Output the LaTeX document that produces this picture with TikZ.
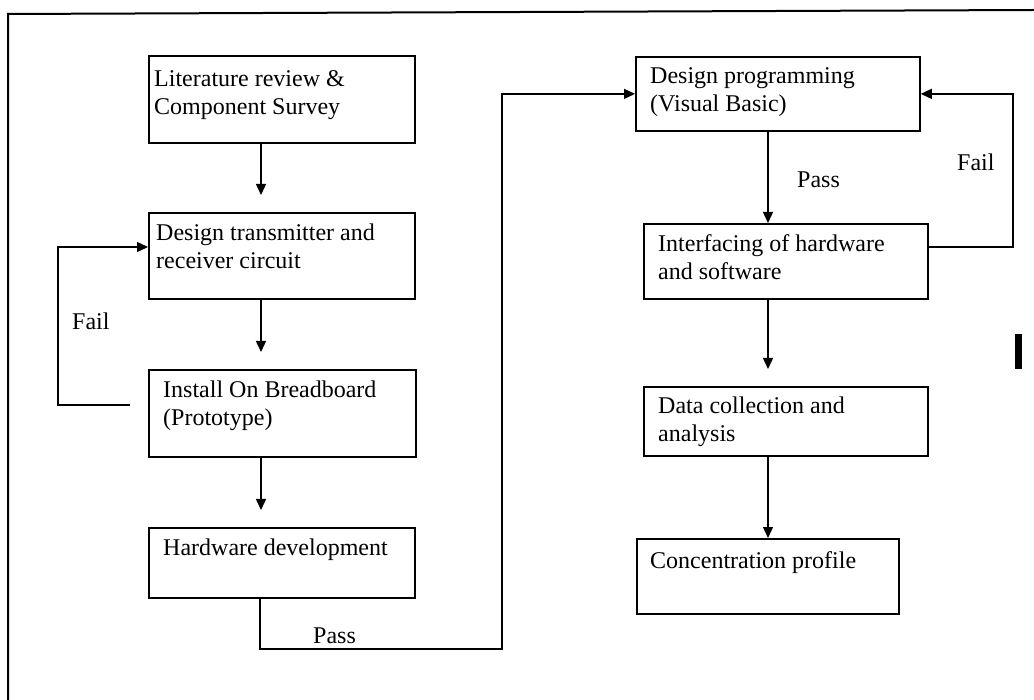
\documentclass[tikz,border=0pt]{standalone}
\usepackage{fontspec}
\setmainfont{Liberation Serif}
\usetikzlibrary{arrows.meta}
\begin{document}
\begin{tikzpicture}[x=1pt,y=-1pt,
  box/.style={draw,line width=1.8pt,inner sep=0pt,anchor=north west},
  txt/.style={inner sep=0pt,anchor=north west,align=left,font=\fontsize{24}{28}\selectfont},
  lbl/.style={inner sep=0pt,anchor=base west,font=\fontsize{24}{28}\selectfont},
  conn/.style={line width=1.4pt},
  arr/.style={conn,-{Triangle[length=11pt,width=10pt]}}]
\useasboundingbox (0,0) rectangle (1034,700);
% frame
\coordinate (fa) at (8,700);
\coordinate (fb) at (8,14);
\coordinate (fc) at (1034,10);
\draw[line width=2pt] (fa) -- (fb) -- (fc);
\fill (1015,334) rectangle (1022,369);
% boxes
\node[box,minimum width=266pt,minimum height=87pt] (b1) at (148,55) {};
\node[box,minimum width=266pt,minimum height=86pt] (b2) at (148,212) {};
\node[box,minimum width=267pt,minimum height=87pt] (b3) at (148,369) {};
\node[box,minimum width=266pt,minimum height=70pt] (b4) at (148,527) {};
\node[box,minimum width=284pt,minimum height=74pt] (b5) at (635,56) {};
\node[box,minimum width=284pt,minimum height=75pt] (b6) at (643,223) {};
\node[box,minimum width=284pt,minimum height=69pt] (b7) at (643,386) {};
\node[box,minimum width=262pt,minimum height=75pt] (b8) at (636,538) {};
% texts
\node[txt] (t1) at ([shift={(6,15)}]b1.north west) {Literature review \&\\Component Survey};
\node[txt] (t2) at ([shift={(8,12)}]b2.north west) {Design transmitter and\\receiver circuit};
\node[txt] (t3) at ([shift={(15,12)}]b3.north west) {Install On Breadboard\\(Prototype)};
\node[txt] (t4) at ([shift={(15,12)}]b4.north west) {Hardware development};
\node[txt] (t5) at ([shift={(15,11)}]b5.north west) {Design programming\\(Visual Basic)};
\node[txt] (t6) at ([shift={(15,11)}]b6.north west) {Interfacing of hardware\\and software};
\node[txt] (t7) at ([shift={(15,11)}]b7.north west) {Data collection and\\analysis};
\node[txt] (t8) at ([shift={(14,13)}]b8.north west) {Concentration profile};
% labels
\node[lbl] (fail1) at (72,330) {Fail};
\node[lbl] (pass1) at (313,643) {Pass};
\node[lbl] (pass2) at (797,188) {Pass};
\node[lbl] (fail2) at (957,171) {Fail};
% column coordinates
\coordinate (lx) at (261,0);
\coordinate (rx) at (768,0);
% left column arrows
\draw[arr,shorten >=17pt] (b1.south -| lx) -- (b2.north -| lx);
\draw[arr,shorten >=17pt] (b2.south -| lx) -- (b3.north -| lx);
\draw[arr,shorten >=17pt] (b3.south -| lx) -- (b4.north -| lx);
% right column arrows
\draw[arr] (b5.south -| rx) -- (b6.north -| rx);
\draw[arr,shorten >=17pt] (b6.south -| rx) -- (b7.north -| rx);
\draw[arr] (b7.south -| rx) -- (b8.north -| rx);
% pass loop
\coordinate (p1) at (260,649);
\coordinate (p2) at (502,649);
\draw[arr] (b4.south -| p1) -- (p1) -- (p2) |- (b5.west);
% fail loop left
\coordinate (l1) at (130,405);
\coordinate (l2) at (58,405);
\coordinate (l3) at (58,247);
\draw[arr] (l1) -- (l2) -- (l3) -- (l3 -| b2.west);
% fail loop right
\coordinate (r1) at (1013,247);
\draw[arr] (r1 -| b6.east) -- (r1) |- (b5.east);
\end{tikzpicture}
\end{document}
